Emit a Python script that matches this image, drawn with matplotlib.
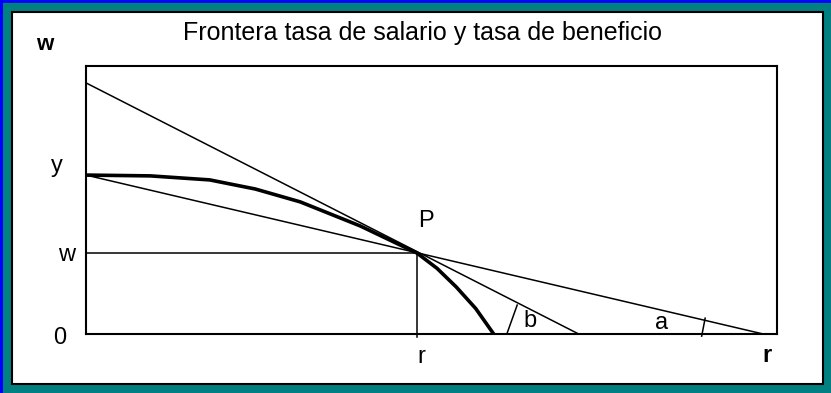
import matplotlib
matplotlib.use("Agg")
import matplotlib.pyplot as plt
from matplotlib.patches import Rectangle
from matplotlib.lines import Line2D

plt.rcParams['font.family'] = ['Liberation Sans', 'DejaVu Sans']

# frontier curve (thick)
curve_x = [0.00, 0.93, 1.79, 2.45, 3.10, 3.97, 4.79, 5.08, 5.36, 5.64, 5.90]
curve_y = [5.93, 5.90, 5.75, 5.41, 4.93, 4.03, 3.02, 2.45, 1.75, 0.95, 0.00]

# point P
p_x, p_y = 4.79, 3.02

# straight lines through P
steep_x = [0.0, 7.13]
steep_y = [9.37, 0.0]
flat_x = [0.0, 9.80]
flat_y = [5.93, 0.0]

# angle marks
mark_b_x = [6.09, 6.24]
mark_b_y = [0.0, 1.08]
mark_a_x = [8.91, 8.96]
mark_a_y = [-0.08, 0.59]

W, H = 831, 393
fig = plt.figure(figsize=(W / 100, H / 100), dpi=100)
fig.patch.set_facecolor('#008080')


def fx(x):
    return x / W


def fy(y):
    return 1 - y / H


# frame: white panel with black edge, blue outer rim on top/left
fig.patches.append(Rectangle((fx(12), fy(384)), (823 - 12) / W, (384 - 12) / H,
                             transform=fig.transFigure, facecolor='white',
                             edgecolor='black', lw=1.5, zorder=-5))
fig.lines.append(Line2D([fx(1), fx(1)], [0, 1], transform=fig.transFigure,
                        color='#0000ff', lw=2.2, zorder=-5))
fig.lines.append(Line2D([0, 1], [fy(1), fy(1)], transform=fig.transFigure,
                        color='#0000ff', lw=2.0, zorder=-5))

ax = fig.add_axes([fx(86), fy(334), (777 - 86) / W, (334 - 66) / H])
ax.set_zorder(2)
ax.set_xlim(0, 10)
ax.set_ylim(0, 10)
ax.set_xticks([])
ax.set_yticks([])
for s in ax.spines.values():
    s.set_linewidth(1.5)

ax.plot(steep_x, steep_y, color='black', lw=1.1)
ax.plot(flat_x, flat_y, color='black', lw=1.1)
ax.plot(curve_x, curve_y, color='black', lw=2.6)
ax.plot([0, p_x], [p_y, p_y], color='black', lw=1.1)
ax.plot([p_x, p_x], [-0.1, p_y], color='black', lw=1.1, clip_on=False)
ax.plot(mark_b_x, mark_b_y, color='black', lw=1.1)
ax.plot(mark_a_x, mark_a_y, color='black', lw=1.1, clip_on=False)

fs = 17
fig.text(fx(422), fy(33), 'Frontera tasa de salario y tasa de beneficio',
         fontsize=18, ha='center', va='center', zorder=5)
fig.text(fx(45), fy(44), 'w', fontsize=16, fontweight='bold', ha='center', va='center')
fig.text(fx(57), fy(166), 'y', fontsize=fs, ha='center', va='center')
fig.text(fx(67), fy(255), 'w', fontsize=fs, ha='center', va='center')
fig.text(fx(60), fy(338), '0', fontsize=fs, ha='center', va='center')
fig.text(fx(421), fy(357), 'r', fontsize=fs, ha='center', va='center')
fig.text(fx(767), fy(356), 'r', fontsize=fs, fontweight='bold', ha='center', va='center')
fig.text(fx(426), fy(221), 'P', fontsize=fs, ha='center', va='center')
fig.text(fx(530), fy(321), 'b', fontsize=fs, ha='center', va='center')
fig.text(fx(662), fy(323), 'a', fontsize=fs, ha='center', va='center')

fig.savefig('out.png', dpi=100, facecolor=fig.get_facecolor())
